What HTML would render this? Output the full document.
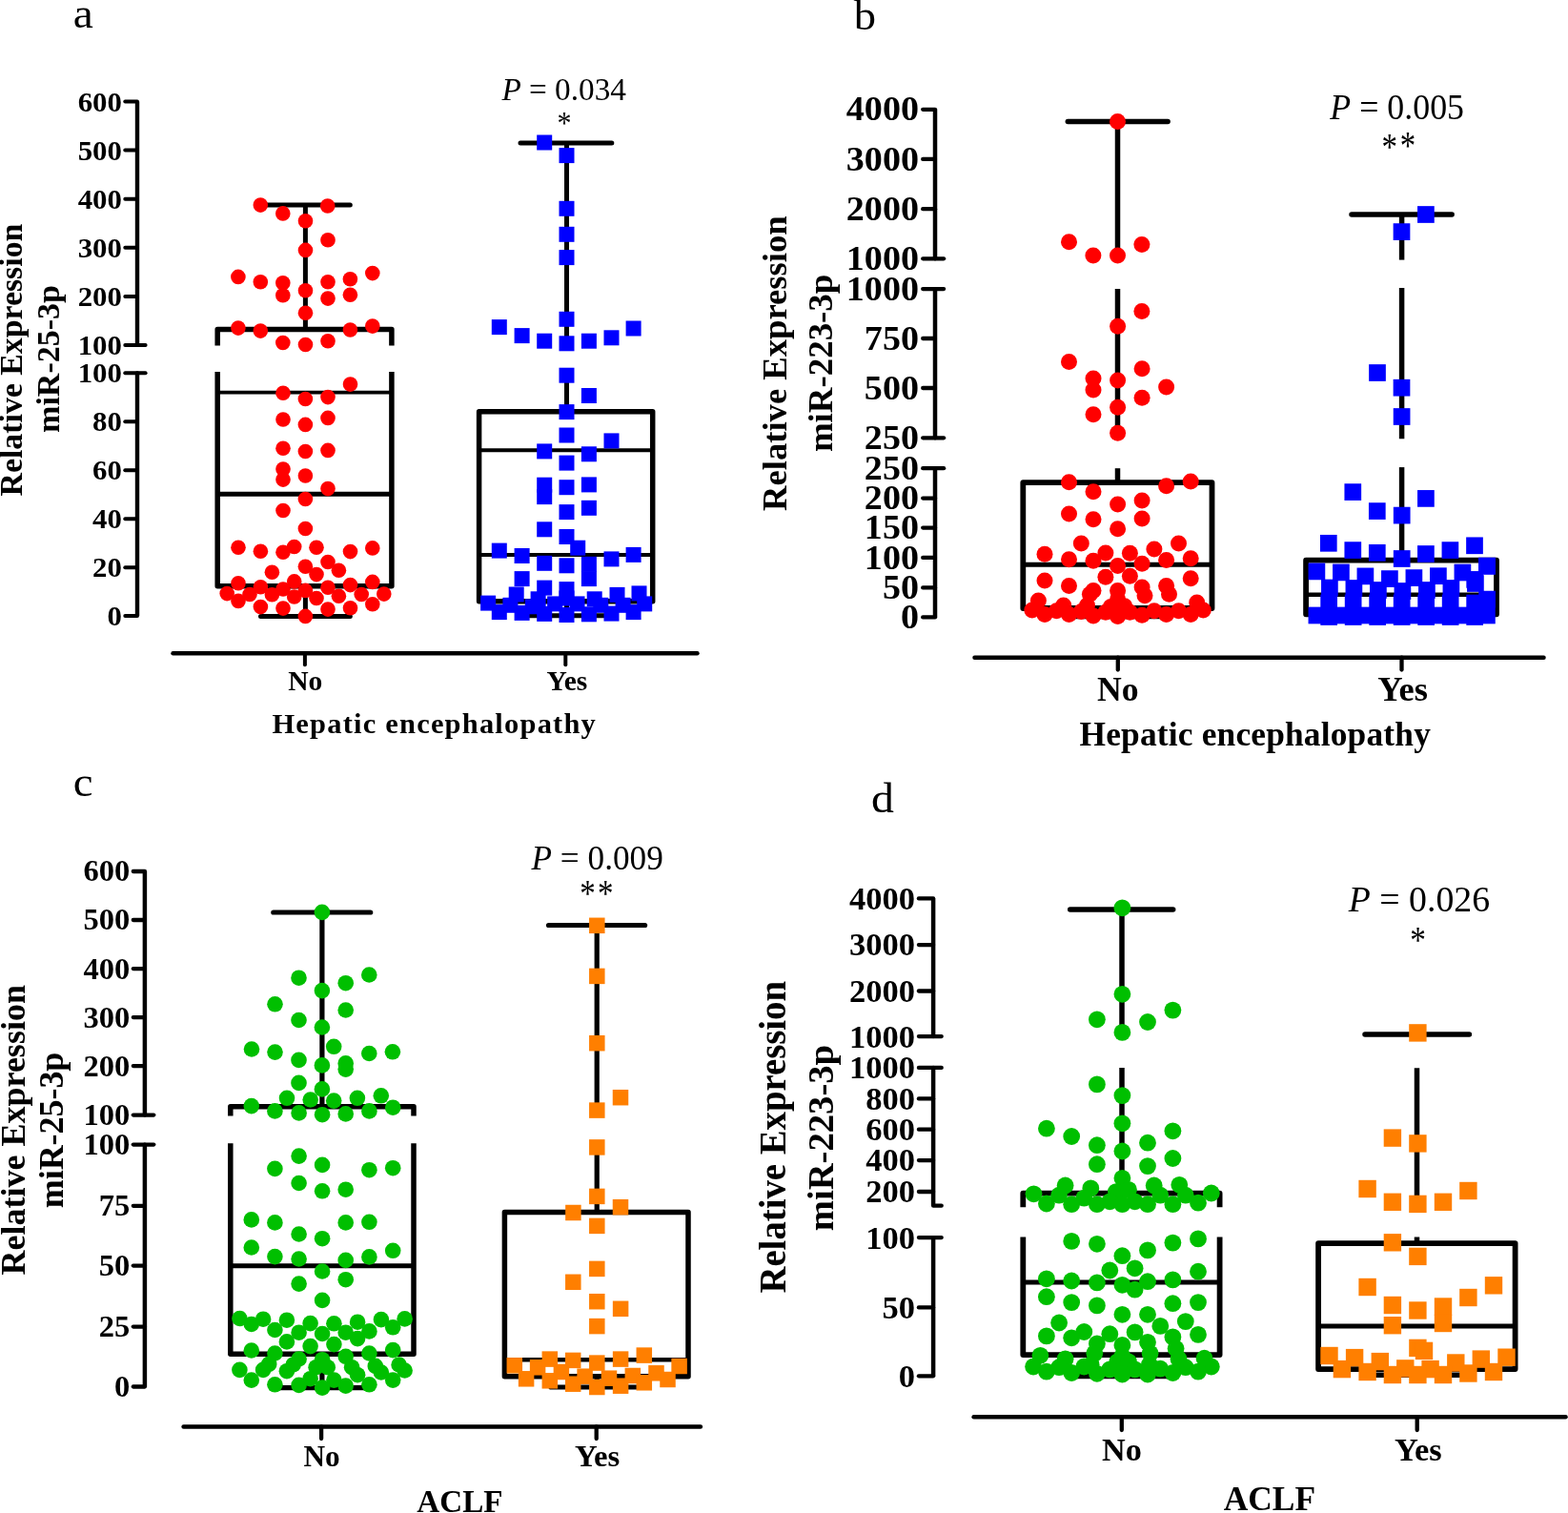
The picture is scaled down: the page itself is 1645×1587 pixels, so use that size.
<!DOCTYPE html>
<html><head><meta charset="utf-8"><title>Relative expression of miR-25-3p and miR-223-3p</title>
<style>html,body{margin:0;padding:0;background:#fff;overflow:hidden;}svg{display:block;}text{font-family:'Liberation Serif', 'Times New Roman', serif;}</style>
</head><body>
<svg width="1645" height="1587" viewBox="0 0 1645 1587">
<rect width="1645" height="1587" fill="#fff"/>
<g stroke="#000" fill="none"><line x1="144" y1="106.5" x2="144" y2="362" stroke-width="4.4" stroke-linecap="butt"/><line x1="131.3" y1="106.5" x2="144" y2="106.5" stroke-width="4" stroke-linecap="round"/><line x1="131.3" y1="157.6" x2="144" y2="157.6" stroke-width="4" stroke-linecap="round"/><line x1="131.3" y1="208.7" x2="144" y2="208.7" stroke-width="4" stroke-linecap="round"/><line x1="131.3" y1="259.8" x2="144" y2="259.8" stroke-width="4" stroke-linecap="round"/><line x1="131.3" y1="310.9" x2="144" y2="310.9" stroke-width="4" stroke-linecap="round"/><line x1="131.3" y1="362" x2="144" y2="362" stroke-width="4" stroke-linecap="round"/><line x1="144" y1="362" x2="152.6" y2="362" stroke-width="4" stroke-linecap="round"/><line x1="144" y1="391.3" x2="144" y2="646.1" stroke-width="4.4" stroke-linecap="butt"/><line x1="131.3" y1="391.3" x2="144" y2="391.3" stroke-width="4" stroke-linecap="round"/><line x1="131.3" y1="442.26" x2="144" y2="442.26" stroke-width="4" stroke-linecap="round"/><line x1="131.3" y1="493.22" x2="144" y2="493.22" stroke-width="4" stroke-linecap="round"/><line x1="131.3" y1="544.18" x2="144" y2="544.18" stroke-width="4" stroke-linecap="round"/><line x1="131.3" y1="595.14" x2="144" y2="595.14" stroke-width="4" stroke-linecap="round"/><line x1="131.3" y1="646.1" x2="144" y2="646.1" stroke-width="4" stroke-linecap="round"/><line x1="144" y1="391.3" x2="152.6" y2="391.3" stroke-width="4" stroke-linecap="round"/><line x1="181.5" y1="685.2" x2="731.5" y2="685.2" stroke-width="4.4" stroke-linecap="round"/><line x1="319.9" y1="685.2" x2="319.9" y2="697.2" stroke-width="4" stroke-linecap="round"/><line x1="593.3" y1="685.2" x2="593.3" y2="697.2" stroke-width="4" stroke-linecap="round"/><line x1="320.4" y1="215.1" x2="320.4" y2="345.5" stroke-width="5" stroke-linecap="butt"/><line x1="320.4" y1="614.8" x2="320.4" y2="646.4" stroke-width="5" stroke-linecap="butt"/><line x1="273.5" y1="215.1" x2="367.3" y2="215.1" stroke-width="5" stroke-linecap="round"/><line x1="273.5" y1="646.4" x2="367.3" y2="646.4" stroke-width="5" stroke-linecap="round"/><polyline points="228.2,362.6 228.2,345.5 410.9,345.5 410.9,362.6" stroke-width="5.5" stroke-linecap="butt" stroke-linejoin="round"/><polyline points="228.2,390 228.2,614.8 410.9,614.8 410.9,390" stroke-width="5.5" stroke-linecap="butt" stroke-linejoin="round"/><line x1="228.2" y1="411.6" x2="410.9" y2="411.6" stroke-width="3.8" stroke-linecap="butt"/><line x1="228.2" y1="518.3" x2="410.9" y2="518.3" stroke-width="5" stroke-linecap="butt"/><line x1="594.5" y1="150" x2="594.5" y2="362.6" stroke-width="5" stroke-linecap="butt"/><line x1="594.5" y1="390" x2="594.5" y2="431.7" stroke-width="5" stroke-linecap="butt"/><line x1="594.5" y1="630.7" x2="594.5" y2="645.8" stroke-width="5" stroke-linecap="butt"/><line x1="546" y1="150" x2="641.8" y2="150" stroke-width="5" stroke-linecap="round"/><line x1="547" y1="645.8" x2="642" y2="645.8" stroke-width="5" stroke-linecap="round"/><polygon points="502.6,431.7 684.7,431.7 684.7,630.7 502.6,630.7" stroke-width="5.5" stroke-linecap="butt" stroke-linejoin="round"/><line x1="502.6" y1="472.2" x2="684.7" y2="472.2" stroke-width="4" stroke-linecap="butt"/><line x1="502.6" y1="581.9" x2="684.7" y2="581.9" stroke-width="4" stroke-linecap="butt"/></g><g fill="#ff0000"><circle cx="273.3" cy="215.1" r="7.8"/><circle cx="343.7" cy="216" r="7.8"/><circle cx="296.8" cy="223.9" r="7.8"/><circle cx="320.5" cy="231.7" r="7.8"/><circle cx="344" cy="251.8" r="7.8"/><circle cx="320.5" cy="262.4" r="7.8"/><circle cx="249.9" cy="290.4" r="7.8"/><circle cx="390.8" cy="286.6" r="7.8"/><circle cx="273.3" cy="295.7" r="7.8"/><circle cx="296.8" cy="296.7" r="7.8"/><circle cx="344" cy="295.7" r="7.8"/><circle cx="367.4" cy="292.7" r="7.8"/><circle cx="296.8" cy="309.8" r="7.8"/><circle cx="320.5" cy="304.8" r="7.8"/><circle cx="344" cy="313.1" r="7.8"/><circle cx="367.4" cy="309.3" r="7.8"/><circle cx="320.5" cy="328.2" r="7.8"/><circle cx="249.9" cy="344.1" r="7.8"/><circle cx="273.3" cy="347.1" r="7.8"/><circle cx="367.4" cy="346" r="7.8"/><circle cx="390.8" cy="342.1" r="7.8"/><circle cx="296.8" cy="359.5" r="7.8"/><circle cx="320.5" cy="361.5" r="7.8"/><circle cx="344" cy="357.7" r="7.8"/><circle cx="367.5" cy="403.1" r="7.8"/><circle cx="297" cy="412.3" r="7.8"/><circle cx="320.4" cy="418.5" r="7.8"/><circle cx="344" cy="416.6" r="7.8"/><circle cx="297" cy="440" r="7.8"/><circle cx="320.4" cy="445.4" r="7.8"/><circle cx="344" cy="438.4" r="7.8"/><circle cx="297" cy="470.2" r="7.8"/><circle cx="320.4" cy="473.5" r="7.8"/><circle cx="344" cy="472.4" r="7.8"/><circle cx="297" cy="492.1" r="7.8"/><circle cx="297" cy="503.1" r="7.8"/><circle cx="320.4" cy="499" r="7.8"/><circle cx="344" cy="512.6" r="7.8"/><circle cx="320.4" cy="523.5" r="7.8"/><circle cx="297" cy="535.5" r="7.8"/><circle cx="320.4" cy="554.5" r="7.8"/><circle cx="250" cy="574.2" r="7.8"/><circle cx="273.4" cy="578.3" r="7.8"/><circle cx="297" cy="579.3" r="7.8"/><circle cx="308.7" cy="573.5" r="7.8"/><circle cx="332" cy="574.2" r="7.8"/><circle cx="367.5" cy="578.6" r="7.8"/><circle cx="390.8" cy="574.9" r="7.8"/><circle cx="344" cy="589.5" r="7.8"/><circle cx="285.4" cy="600.2" r="7.8"/><circle cx="320.4" cy="594.3" r="7.8"/><circle cx="332" cy="602.6" r="7.8"/><circle cx="355.4" cy="598.3" r="7.8"/><circle cx="250" cy="611.8" r="7.8"/><circle cx="273.4" cy="615.8" r="7.8"/><circle cx="308.7" cy="609.9" r="7.8"/><circle cx="297" cy="618" r="7.8"/><circle cx="344" cy="616.2" r="7.8"/><circle cx="367.5" cy="613.6" r="7.8"/><circle cx="390.8" cy="610.4" r="7.8"/><circle cx="238.2" cy="622.6" r="7.8"/><circle cx="262" cy="623.5" r="7.8"/><circle cx="285.4" cy="623.8" r="7.8"/><circle cx="308.7" cy="626" r="7.8"/><circle cx="320.4" cy="619.4" r="7.8"/><circle cx="332" cy="627.5" r="7.8"/><circle cx="355.4" cy="625.3" r="7.8"/><circle cx="379.2" cy="623.5" r="7.8"/><circle cx="402.8" cy="623.1" r="7.8"/><circle cx="250" cy="630.4" r="7.8"/><circle cx="273.4" cy="636.6" r="7.8"/><circle cx="297" cy="638.1" r="7.8"/><circle cx="344" cy="639.1" r="7.8"/><circle cx="367.5" cy="637.7" r="7.8"/><circle cx="390.8" cy="633.7" r="7.8"/><circle cx="320.4" cy="646.4" r="7.8"/></g><g fill="#0000ff"><rect x="563.2" y="141.5" width="16" height="16"/><rect x="586.5" y="155.1" width="16" height="16"/><rect x="586.5" y="210.8" width="16" height="16"/><rect x="586.5" y="237.8" width="16" height="16"/><rect x="586.5" y="262.1" width="16" height="16"/><rect x="586.5" y="326.8" width="16" height="16"/><rect x="515.8" y="335.1" width="16" height="16"/><rect x="539.6" y="344.1" width="16" height="16"/><rect x="563.2" y="349.7" width="16" height="16"/><rect x="586.5" y="352.3" width="16" height="16"/><rect x="609.9" y="349.7" width="16" height="16"/><rect x="633.5" y="346.3" width="16" height="16"/><rect x="656.6" y="336.5" width="16" height="16"/><rect x="586.5" y="385.7" width="16" height="16"/><rect x="609.9" y="407" width="16" height="16"/><rect x="586.5" y="424.1" width="16" height="16"/><rect x="586.5" y="448.5" width="16" height="16"/><rect x="633.5" y="454.4" width="16" height="16"/><rect x="563.2" y="465.4" width="16" height="16"/><rect x="609.9" y="468.3" width="16" height="16"/><rect x="586.5" y="477.6" width="16" height="16"/><rect x="563.2" y="500.7" width="16" height="16"/><rect x="563.2" y="513.1" width="16" height="16"/><rect x="586.5" y="503.2" width="16" height="16"/><rect x="609.9" y="500.4" width="16" height="16"/><rect x="586.5" y="529.1" width="16" height="16"/><rect x="609.9" y="524.8" width="16" height="16"/><rect x="563.2" y="547.3" width="16" height="16"/><rect x="586.5" y="555" width="16" height="16"/><rect x="598.2" y="566.7" width="16" height="16"/><rect x="515.8" y="569.6" width="16" height="16"/><rect x="539.6" y="575" width="16" height="16"/><rect x="563.2" y="582.8" width="16" height="16"/><rect x="586.5" y="585.3" width="16" height="16"/><rect x="609.9" y="583.8" width="16" height="16"/><rect x="609.9" y="599.1" width="16" height="16"/><rect x="633.5" y="578.4" width="16" height="16"/><rect x="656.6" y="573.9" width="16" height="16"/><rect x="539.6" y="599.1" width="16" height="16"/><rect x="563.2" y="608.6" width="16" height="16"/><rect x="586.5" y="610.1" width="16" height="16"/><rect x="533.7" y="615.5" width="16" height="16"/><rect x="639.5" y="615.9" width="16" height="16"/><rect x="662.5" y="614.4" width="16" height="16"/><rect x="615.7" y="620.3" width="16" height="16"/><rect x="556.6" y="620.3" width="16" height="16"/><rect x="504.1" y="624.6" width="16" height="16"/><rect x="527.4" y="626.8" width="16" height="16"/><rect x="550.8" y="628.3" width="16" height="16"/><rect x="574.1" y="625.4" width="16" height="16"/><rect x="597.5" y="625.4" width="16" height="16"/><rect x="622.3" y="626.8" width="16" height="16"/><rect x="645.6" y="626.8" width="16" height="16"/><rect x="668.2" y="625.4" width="16" height="16"/><rect x="515.8" y="634.1" width="16" height="16"/><rect x="539.6" y="634.9" width="16" height="16"/><rect x="563.2" y="635.9" width="16" height="16"/><rect x="586.5" y="637" width="16" height="16"/><rect x="609.9" y="636.3" width="16" height="16"/><rect x="633.5" y="635.6" width="16" height="16"/><rect x="656.6" y="634.1" width="16" height="16"/><rect x="586.5" y="619.5" width="16" height="16"/></g><g fill="#000"><text transform="translate(81.67 116.51) scale(1.0435 1)" font-size="29.55" font-weight="bold">600</text><text transform="translate(81.67 167.61) scale(1.0435 1)" font-size="29.55" font-weight="bold">500</text><text transform="translate(81.67 218.71) scale(1.0435 1)" font-size="29.55" font-weight="bold">400</text><text transform="translate(81.67 269.81) scale(1.0435 1)" font-size="29.55" font-weight="bold">300</text><text transform="translate(81.67 320.91) scale(1.0435 1)" font-size="29.55" font-weight="bold">200</text><text transform="translate(81.67 372.16) scale(1.0435 1)" font-size="29.55" font-weight="bold">100</text><text transform="translate(81.67 401.46) scale(1.0435 1)" font-size="29.55" font-weight="bold">100</text><text transform="translate(97.09 452.27) scale(1.0435 1)" font-size="29.55" font-weight="bold">80</text><text transform="translate(97.09 503.23) scale(1.0435 1)" font-size="29.55" font-weight="bold">60</text><text transform="translate(97.09 554.19) scale(1.0435 1)" font-size="29.55" font-weight="bold">40</text><text transform="translate(97.09 605.15) scale(1.0435 1)" font-size="29.55" font-weight="bold">20</text><text transform="translate(112.51 656.11) scale(1.0435 1)" font-size="29.55" font-weight="bold">0</text><text transform="translate(76.8 28.95) scale(1.0541 1)" font-size="45">a</text><text transform="translate(302.21 723.9) scale(0.9806 1)" font-size="30.15" font-weight="bold">No</text><text transform="translate(573.61 723.9) scale(0.9783 1)" font-size="30.15" font-weight="bold">Yes</text><text transform="translate(285.39 769)" font-size="30.46" font-weight="bold" letter-spacing="1.22">Hepatic encephalopathy</text><text transform="translate(22.9 520.48) rotate(-90) scale(1.0036 1)" font-size="33.69" font-weight="bold">Relative Expression</text><text transform="translate(61.9 453.92) rotate(-90) scale(1.0187 1)" font-size="33.38" font-weight="bold">miR-25-3p</text><text transform="translate(526.4 104.7) scale(0.9876 1)" font-size="33.69"><tspan font-style="italic">P</tspan> = 0.034</text><text transform="translate(584.5 139.79) scale(0.8710 1)" font-size="34.44">*</text></g>
<g stroke="#000" fill="none"><line x1="981" y1="114.8" x2="981" y2="271.3" stroke-width="4.5" stroke-linecap="butt"/><line x1="968.2" y1="114.8" x2="981" y2="114.8" stroke-width="4.3" stroke-linecap="round"/><line x1="968.2" y1="166.9" x2="981" y2="166.9" stroke-width="4.3" stroke-linecap="round"/><line x1="968.2" y1="219.2" x2="981" y2="219.2" stroke-width="4.3" stroke-linecap="round"/><line x1="968.2" y1="271.3" x2="981" y2="271.3" stroke-width="4.3" stroke-linecap="round"/><line x1="981" y1="271.3" x2="990.1" y2="271.3" stroke-width="4.3" stroke-linecap="round"/><line x1="981" y1="303.1" x2="981" y2="459.3" stroke-width="4.5" stroke-linecap="butt"/><line x1="968.2" y1="303.1" x2="981" y2="303.1" stroke-width="4.3" stroke-linecap="round"/><line x1="968.2" y1="355" x2="981" y2="355" stroke-width="4.3" stroke-linecap="round"/><line x1="968.2" y1="407" x2="981" y2="407" stroke-width="4.3" stroke-linecap="round"/><line x1="968.2" y1="459.3" x2="981" y2="459.3" stroke-width="4.3" stroke-linecap="round"/><line x1="981" y1="303.1" x2="990.1" y2="303.1" stroke-width="4.3" stroke-linecap="round"/><line x1="981" y1="459.3" x2="990.1" y2="459.3" stroke-width="4.3" stroke-linecap="round"/><line x1="981" y1="491.2" x2="981" y2="647.4" stroke-width="4.5" stroke-linecap="butt"/><line x1="968.2" y1="491.2" x2="981" y2="491.2" stroke-width="4.3" stroke-linecap="round"/><line x1="968.2" y1="522.6" x2="981" y2="522.6" stroke-width="4.3" stroke-linecap="round"/><line x1="968.2" y1="553.6" x2="981" y2="553.6" stroke-width="4.3" stroke-linecap="round"/><line x1="968.2" y1="584.9" x2="981" y2="584.9" stroke-width="4.3" stroke-linecap="round"/><line x1="968.2" y1="616.4" x2="981" y2="616.4" stroke-width="4.3" stroke-linecap="round"/><line x1="968.2" y1="647.4" x2="981" y2="647.4" stroke-width="4.3" stroke-linecap="round"/><line x1="981" y1="491.2" x2="990.1" y2="491.2" stroke-width="4.3" stroke-linecap="round"/><line x1="1022.5" y1="689.7" x2="1619.5" y2="689.7" stroke-width="4.5" stroke-linecap="round"/><line x1="1172.8" y1="689.7" x2="1172.8" y2="702.5" stroke-width="4.3" stroke-linecap="round"/><line x1="1470.5" y1="689.7" x2="1470.5" y2="702.5" stroke-width="4.3" stroke-linecap="round"/><line x1="1172.5" y1="127.5" x2="1172.5" y2="271.3" stroke-width="5.5" stroke-linecap="butt"/><line x1="1172.5" y1="303.1" x2="1172.5" y2="459.3" stroke-width="5.5" stroke-linecap="butt"/><line x1="1172.5" y1="491.2" x2="1172.5" y2="506.2" stroke-width="5.5" stroke-linecap="butt"/><line x1="1172.5" y1="638" x2="1172.5" y2="646.6" stroke-width="5.5" stroke-linecap="butt"/><line x1="1120.3" y1="127.5" x2="1225.1" y2="127.5" stroke-width="5.5" stroke-linecap="round"/><line x1="1122" y1="646.6" x2="1223" y2="646.6" stroke-width="5.5" stroke-linecap="round"/><polygon points="1073.3,506.2 1271.5,506.2 1271.5,638 1073.3,638" stroke-width="5.8" stroke-linecap="butt" stroke-linejoin="round"/><line x1="1073.3" y1="592.3" x2="1271.5" y2="592.3" stroke-width="5" stroke-linecap="butt"/><line x1="1470.6" y1="225" x2="1470.6" y2="272.6" stroke-width="5.5" stroke-linecap="butt"/><line x1="1470.6" y1="302.1" x2="1470.6" y2="460.3" stroke-width="5.5" stroke-linecap="butt"/><line x1="1470.6" y1="490.1" x2="1470.6" y2="587.7" stroke-width="5.5" stroke-linecap="butt"/><line x1="1418" y1="225" x2="1523.2" y2="225" stroke-width="5.5" stroke-linecap="round"/><polygon points="1370.1,587.7 1570,587.7 1570,644.3 1370.1,644.3" stroke-width="5.8" stroke-linecap="butt" stroke-linejoin="round"/><line x1="1370.1" y1="623.8" x2="1570" y2="623.8" stroke-width="4.5" stroke-linecap="butt"/></g><g fill="#ff0000"><circle cx="1172.5" cy="127.5" r="8.5"/><circle cx="1121.5" cy="253.8" r="8.5"/><circle cx="1146.9" cy="267.9" r="8.5"/><circle cx="1172.5" cy="267.9" r="8.5"/><circle cx="1197.9" cy="256.5" r="8.5"/><circle cx="1197.9" cy="326.5" r="8.5"/><circle cx="1172.6" cy="342.3" r="8.5"/><circle cx="1121.5" cy="379.4" r="8.5"/><circle cx="1147" cy="396.9" r="8.5"/><circle cx="1147" cy="409" r="8.5"/><circle cx="1172.6" cy="399.1" r="8.5"/><circle cx="1198.1" cy="386.7" r="8.5"/><circle cx="1223.6" cy="406.1" r="8.5"/><circle cx="1198.1" cy="417.3" r="8.5"/><circle cx="1147" cy="434.8" r="8.5"/><circle cx="1172.6" cy="427.2" r="8.5"/><circle cx="1172.6" cy="454.2" r="8.5"/><circle cx="1121.5" cy="505.7" r="8.5"/><circle cx="1147" cy="515.7" r="8.5"/><circle cx="1223.6" cy="509.8" r="8.5"/><circle cx="1249.2" cy="505" r="8.5"/><circle cx="1172.6" cy="528.9" r="8.5"/><circle cx="1198.1" cy="525.1" r="8.5"/><circle cx="1121.5" cy="539.1" r="8.5"/><circle cx="1147" cy="544.8" r="8.5"/><circle cx="1198.1" cy="544.1" r="8.5"/><circle cx="1172.6" cy="554.7" r="8.5"/><circle cx="1134.3" cy="570" r="8.5"/><circle cx="1236.5" cy="570" r="8.5"/><circle cx="1096" cy="581.3" r="8.5"/><circle cx="1121.5" cy="586.8" r="8.5"/><circle cx="1147" cy="588.3" r="8.5"/><circle cx="1159.9" cy="580" r="8.5"/><circle cx="1185.4" cy="580.2" r="8.5"/><circle cx="1210.9" cy="575.9" r="8.5"/><circle cx="1223.6" cy="587.5" r="8.5"/><circle cx="1249.2" cy="585.8" r="8.5"/><circle cx="1172.6" cy="593.4" r="8.5"/><circle cx="1198.1" cy="591.2" r="8.5"/><circle cx="1096" cy="609.1" r="8.5"/><circle cx="1121.5" cy="614.5" r="8.5"/><circle cx="1159.9" cy="605.3" r="8.5"/><circle cx="1185.4" cy="604.3" r="8.5"/><circle cx="1249.2" cy="606.8" r="8.5"/><circle cx="1147" cy="619.6" r="8.5"/><circle cx="1143.4" cy="623.3" r="8.5"/><circle cx="1172.6" cy="619.6" r="8.5"/><circle cx="1172.6" cy="628.4" r="8.5"/><circle cx="1198.1" cy="616" r="8.5"/><circle cx="1201" cy="624.7" r="8.5"/><circle cx="1223.6" cy="614.5" r="8.5"/><circle cx="1226.5" cy="623.3" r="8.5"/><circle cx="1089.4" cy="629.9" r="8.5"/><circle cx="1115.7" cy="635" r="8.5"/><circle cx="1255.7" cy="632" r="8.5"/><circle cx="1082.8" cy="640.1" r="8.5"/><circle cx="1096" cy="644.4" r="8.5"/><circle cx="1108.4" cy="640.8" r="8.5"/><circle cx="1121.5" cy="644.4" r="8.5"/><circle cx="1134.3" cy="641.5" r="8.5"/><circle cx="1147" cy="645.9" r="8.5"/><circle cx="1159.9" cy="642.3" r="8.5"/><circle cx="1172.6" cy="646.6" r="8.5"/><circle cx="1185.4" cy="642.3" r="8.5"/><circle cx="1198.1" cy="645.2" r="8.5"/><circle cx="1210.9" cy="640.8" r="8.5"/><circle cx="1223.6" cy="644.4" r="8.5"/><circle cx="1236.5" cy="640.8" r="8.5"/><circle cx="1249.2" cy="644.4" r="8.5"/><circle cx="1262.3" cy="640.1" r="8.5"/><circle cx="1140.5" cy="635" r="8.5"/><circle cx="1165.3" cy="636.4" r="8.5"/><circle cx="1179.8" cy="635.7" r="8.5"/></g><g fill="#0000ff"><rect x="1487.05" y="216.15" width="17.7" height="17.7"/><rect x="1461.65" y="234.25" width="17.7" height="17.7"/><rect x="1436.15" y="382.15" width="17.7" height="17.7"/><rect x="1461.65" y="397.85" width="17.7" height="17.7"/><rect x="1461.75" y="428.15" width="17.7" height="17.7"/><rect x="1410.45" y="507.25" width="17.7" height="17.7"/><rect x="1487.05" y="514.05" width="17.7" height="17.7"/><rect x="1435.95" y="527.25" width="17.7" height="17.7"/><rect x="1461.85" y="531.75" width="17.7" height="17.7"/><rect x="1384.95" y="560.95" width="17.7" height="17.7"/><rect x="1410.45" y="568.25" width="17.7" height="17.7"/><rect x="1435.95" y="570.95" width="17.7" height="17.7"/><rect x="1461.85" y="577.15" width="17.7" height="17.7"/><rect x="1487.05" y="572.15" width="17.7" height="17.7"/><rect x="1512.55" y="568.25" width="17.7" height="17.7"/><rect x="1538.15" y="563.45" width="17.7" height="17.7"/><rect x="1551.25" y="584.75" width="17.7" height="17.7"/><rect x="1372.55" y="590.55" width="17.7" height="17.7"/><rect x="1398.05" y="591.55" width="17.7" height="17.7"/><rect x="1423.55" y="595.55" width="17.7" height="17.7"/><rect x="1449.05" y="598.25" width="17.7" height="17.7"/><rect x="1474.55" y="597.25" width="17.7" height="17.7"/><rect x="1500.05" y="595.35" width="17.7" height="17.7"/><rect x="1525.55" y="591.65" width="17.7" height="17.7"/><rect x="1551.05" y="584.95" width="17.7" height="17.7"/><rect x="1386.05" y="607.65" width="17.7" height="17.7"/><rect x="1411.55" y="608.15" width="17.7" height="17.7"/><rect x="1437.05" y="610.15" width="17.7" height="17.7"/><rect x="1462.55" y="611.15" width="17.7" height="17.7"/><rect x="1488.05" y="610.15" width="17.7" height="17.7"/><rect x="1513.55" y="608.15" width="17.7" height="17.7"/><rect x="1539.05" y="603.15" width="17.7" height="17.7"/><rect x="1538.35" y="599.05" width="17.7" height="17.7"/><rect x="1385.3" y="623.65" width="17.7" height="17.7"/><rect x="1410.8" y="623.65" width="17.7" height="17.7"/><rect x="1436.3" y="623.65" width="17.7" height="17.7"/><rect x="1461.8" y="623.65" width="17.7" height="17.7"/><rect x="1487.3" y="623.65" width="17.7" height="17.7"/><rect x="1512.8" y="623.65" width="17.7" height="17.7"/><rect x="1538.3" y="623.65" width="17.7" height="17.7"/><rect x="1551.25" y="619.75" width="17.7" height="17.7"/><rect x="1372.55" y="636.65" width="17.7" height="17.7"/><rect x="1398.05" y="636.65" width="17.7" height="17.7"/><rect x="1423.55" y="636.65" width="17.7" height="17.7"/><rect x="1449.05" y="636.65" width="17.7" height="17.7"/><rect x="1474.55" y="636.65" width="17.7" height="17.7"/><rect x="1500.05" y="636.65" width="17.7" height="17.7"/><rect x="1525.55" y="636.65" width="17.7" height="17.7"/><rect x="1551.05" y="636.65" width="17.7" height="17.7"/><rect x="1385.3" y="638.15" width="17.7" height="17.7"/><rect x="1410.8" y="638.15" width="17.7" height="17.7"/><rect x="1436.3" y="638.15" width="17.7" height="17.7"/><rect x="1461.8" y="638.15" width="17.7" height="17.7"/><rect x="1487.3" y="638.15" width="17.7" height="17.7"/><rect x="1512.8" y="638.15" width="17.7" height="17.7"/><rect x="1538.3" y="638.15" width="17.7" height="17.7"/></g><g fill="#000"><text transform="translate(887.86 126.48) scale(1.0912 1)" font-size="34.85" font-weight="bold">4000</text><text transform="translate(887.86 178.58) scale(1.0912 1)" font-size="34.85" font-weight="bold">3000</text><text transform="translate(887.86 230.88) scale(1.0912 1)" font-size="34.85" font-weight="bold">2000</text><text transform="translate(887.86 283.15) scale(1.0912 1)" font-size="34.85" font-weight="bold">1000</text><text transform="translate(887.86 314.95) scale(1.0912 1)" font-size="34.85" font-weight="bold">1000</text><text transform="translate(906.87 366.68) scale(1.0912 1)" font-size="34.85" font-weight="bold">750</text><text transform="translate(906.87 418.68) scale(1.0912 1)" font-size="34.85" font-weight="bold">500</text><text transform="translate(906.87 470.98) scale(1.0912 1)" font-size="34.85" font-weight="bold">250</text><text transform="translate(906.87 502.88) scale(1.0912 1)" font-size="34.85" font-weight="bold">250</text><text transform="translate(906.87 534.28) scale(1.0912 1)" font-size="34.85" font-weight="bold">200</text><text transform="translate(906.87 565.45) scale(1.0912 1)" font-size="34.85" font-weight="bold">150</text><text transform="translate(906.87 596.75) scale(1.0912 1)" font-size="34.85" font-weight="bold">100</text><text transform="translate(925.89 628.08) scale(1.0912 1)" font-size="34.85" font-weight="bold">50</text><text transform="translate(944.91 659.08) scale(1.0912 1)" font-size="34.85" font-weight="bold">0</text><text transform="translate(895.8 31.45) scale(1.0338 1)" font-size="45">b</text><text transform="translate(1151.09 734.9) scale(1.0086 1)" font-size="35.38" font-weight="bold">No</text><text transform="translate(1445.17 734.9) scale(1.0315 1)" font-size="35.38" font-weight="bold">Yes</text><text transform="translate(1132.49 782.1)" font-size="35.38" font-weight="bold" letter-spacing="0.18">Hepatic encephalopathy</text><text transform="translate(824.7 536.03) rotate(-90) scale(0.9968 1)" font-size="36.77" font-weight="bold">Relative Expression</text><text transform="translate(872.5 474.11) rotate(-90) scale(1.0564 1)" font-size="34.92" font-weight="bold">miR-223-3p</text><text transform="translate(1395.3 124.8) scale(0.9553 1)" font-size="37.54"><tspan font-style="italic">P</tspan> = 0.005</text><text transform="translate(1449.45 167.02) scale(0.8027 1)" font-size="41.11">*</text><text transform="translate(1468.66 167.02) scale(0.7966 1)" font-size="41.11">*</text></g>
<g stroke="#000" fill="none"><line x1="151.9" y1="914" x2="151.9" y2="1169.6" stroke-width="4.5" stroke-linecap="butt"/><line x1="139.8" y1="914" x2="151.9" y2="914" stroke-width="4.3" stroke-linecap="round"/><line x1="139.8" y1="965" x2="151.9" y2="965" stroke-width="4.3" stroke-linecap="round"/><line x1="139.8" y1="1016.1" x2="151.9" y2="1016.1" stroke-width="4.3" stroke-linecap="round"/><line x1="139.8" y1="1067.1" x2="151.9" y2="1067.1" stroke-width="4.3" stroke-linecap="round"/><line x1="139.8" y1="1118.1" x2="151.9" y2="1118.1" stroke-width="4.3" stroke-linecap="round"/><line x1="139.8" y1="1169.6" x2="151.9" y2="1169.6" stroke-width="4.3" stroke-linecap="round"/><line x1="151.9" y1="1169.6" x2="161.3" y2="1169.6" stroke-width="4.3" stroke-linecap="round"/><line x1="151.9" y1="1200.6" x2="151.9" y2="1454.5" stroke-width="4.5" stroke-linecap="butt"/><line x1="139.8" y1="1200.6" x2="151.9" y2="1200.6" stroke-width="4.3" stroke-linecap="round"/><line x1="139.8" y1="1264.8" x2="151.9" y2="1264.8" stroke-width="4.3" stroke-linecap="round"/><line x1="139.8" y1="1327.6" x2="151.9" y2="1327.6" stroke-width="4.3" stroke-linecap="round"/><line x1="139.8" y1="1391.6" x2="151.9" y2="1391.6" stroke-width="4.3" stroke-linecap="round"/><line x1="139.8" y1="1454.5" x2="151.9" y2="1454.5" stroke-width="4.3" stroke-linecap="round"/><line x1="151.9" y1="1200.6" x2="161.3" y2="1200.6" stroke-width="4.3" stroke-linecap="round"/><line x1="192.6" y1="1496.4" x2="734.9" y2="1496.4" stroke-width="4.5" stroke-linecap="round"/><line x1="337.1" y1="1496.4" x2="337.1" y2="1509.1" stroke-width="4.3" stroke-linecap="round"/><line x1="625.7" y1="1496.4" x2="625.7" y2="1509.1" stroke-width="4.3" stroke-linecap="round"/><line x1="337.9" y1="957" x2="337.9" y2="1160.7" stroke-width="5.2" stroke-linecap="butt"/><line x1="337.9" y1="1420.2" x2="337.9" y2="1455.6" stroke-width="5.2" stroke-linecap="butt"/><line x1="286.8" y1="957" x2="388.7" y2="957" stroke-width="5.2" stroke-linecap="round"/><line x1="290" y1="1455.6" x2="386" y2="1455.6" stroke-width="5.2" stroke-linecap="round"/><polyline points="241.8,1170.4 241.8,1160.7 434,1160.7 434,1170.4" stroke-width="5.5" stroke-linecap="butt" stroke-linejoin="round"/><polyline points="241.8,1199.2 241.8,1420.2 434,1420.2 434,1199.2" stroke-width="5.5" stroke-linecap="butt" stroke-linejoin="round"/><line x1="241.8" y1="1327.8" x2="434" y2="1327.8" stroke-width="5" stroke-linecap="butt"/><line x1="626.2" y1="970.5" x2="626.2" y2="1170" stroke-width="5.2" stroke-linecap="butt"/><line x1="626.2" y1="1199" x2="626.2" y2="1271.6" stroke-width="5.2" stroke-linecap="butt"/><line x1="626.2" y1="1443.7" x2="626.2" y2="1455" stroke-width="5.2" stroke-linecap="butt"/><line x1="575.5" y1="970.5" x2="676.6" y2="970.5" stroke-width="5.2" stroke-linecap="round"/><line x1="578" y1="1455" x2="674" y2="1455" stroke-width="5.2" stroke-linecap="round"/><polygon points="529.4,1271.6 722,1271.6 722,1443.7 529.4,1443.7" stroke-width="5.5" stroke-linecap="butt" stroke-linejoin="round"/><line x1="529.4" y1="1426.3" x2="722" y2="1426.3" stroke-width="4.5" stroke-linecap="butt"/></g><g fill="#00bf00"><circle cx="337.9" cy="956.9" r="8.3"/><circle cx="313.5" cy="1025.7" r="8.3"/><circle cx="387.3" cy="1022.5" r="8.3"/><circle cx="362.7" cy="1031.2" r="8.3"/><circle cx="337.9" cy="1039.1" r="8.3"/><circle cx="288.5" cy="1053.3" r="8.3"/><circle cx="362.7" cy="1059.5" r="8.3"/><circle cx="313.5" cy="1070" r="8.3"/><circle cx="337.9" cy="1077.5" r="8.3"/><circle cx="264" cy="1100.5" r="8.3"/><circle cx="288.5" cy="1103.6" r="8.3"/><circle cx="350.2" cy="1097.8" r="8.3"/><circle cx="387.3" cy="1105" r="8.3"/><circle cx="411.9" cy="1103.3" r="8.3"/><circle cx="313.5" cy="1111.9" r="8.3"/><circle cx="337.9" cy="1117.4" r="8.3"/><circle cx="362.7" cy="1115.4" r="8.3"/><circle cx="362.7" cy="1121.6" r="8.3"/><circle cx="313.5" cy="1135.9" r="8.3"/><circle cx="337.9" cy="1142.4" r="8.3"/><circle cx="301" cy="1151.8" r="8.3"/><circle cx="325.7" cy="1153.5" r="8.3"/><circle cx="350.2" cy="1154.6" r="8.3"/><circle cx="374.9" cy="1151.8" r="8.3"/><circle cx="399.8" cy="1149.3" r="8.3"/><circle cx="263.8" cy="1160.1" r="8.3"/><circle cx="288.4" cy="1165.4" r="8.3"/><circle cx="313.6" cy="1167.4" r="8.3"/><circle cx="338.1" cy="1169.2" r="8.3"/><circle cx="362.7" cy="1168.4" r="8.3"/><circle cx="387.4" cy="1165.4" r="8.3"/><circle cx="412.2" cy="1161.7" r="8.3"/><circle cx="313.6" cy="1212.6" r="8.3"/><circle cx="288.4" cy="1225.9" r="8.3"/><circle cx="338.1" cy="1221.9" r="8.3"/><circle cx="387.4" cy="1227.2" r="8.3"/><circle cx="412.2" cy="1225.2" r="8.3"/><circle cx="313.6" cy="1241" r="8.3"/><circle cx="338.1" cy="1249.3" r="8.3"/><circle cx="362.7" cy="1247.7" r="8.3"/><circle cx="263.8" cy="1279.4" r="8.3"/><circle cx="288.4" cy="1282.4" r="8.3"/><circle cx="362.7" cy="1282.4" r="8.3"/><circle cx="387.4" cy="1281.8" r="8.3"/><circle cx="313.6" cy="1294.5" r="8.3"/><circle cx="338.1" cy="1299.2" r="8.3"/><circle cx="263.8" cy="1308.5" r="8.3"/><circle cx="288.4" cy="1318.1" r="8.3"/><circle cx="313.6" cy="1320.5" r="8.3"/><circle cx="362.7" cy="1321.9" r="8.3"/><circle cx="387.4" cy="1318.4" r="8.3"/><circle cx="412.2" cy="1311.8" r="8.3"/><circle cx="338.1" cy="1333.5" r="8.3"/><circle cx="313.6" cy="1346.6" r="8.3"/><circle cx="362.7" cy="1342.2" r="8.3"/><circle cx="338.1" cy="1363.9" r="8.3"/><circle cx="251.4" cy="1383" r="8.3"/><circle cx="263.8" cy="1389" r="8.3"/><circle cx="276.1" cy="1383.7" r="8.3"/><circle cx="300.9" cy="1384.7" r="8.3"/><circle cx="288.4" cy="1395" r="8.3"/><circle cx="325.6" cy="1388.1" r="8.3"/><circle cx="350.4" cy="1388.3" r="8.3"/><circle cx="375.1" cy="1386.7" r="8.3"/><circle cx="399.9" cy="1384.1" r="8.3"/><circle cx="424.6" cy="1383.4" r="8.3"/><circle cx="412.2" cy="1392.3" r="8.3"/><circle cx="313.6" cy="1397.7" r="8.3"/><circle cx="338.1" cy="1399" r="8.3"/><circle cx="362.7" cy="1397.7" r="8.3"/><circle cx="387.4" cy="1396.4" r="8.3"/><circle cx="300.9" cy="1407.4" r="8.3"/><circle cx="325.6" cy="1412.1" r="8.3"/><circle cx="350.4" cy="1410.1" r="8.3"/><circle cx="375.1" cy="1404.1" r="8.3"/><circle cx="263.8" cy="1416.5" r="8.3"/><circle cx="288.4" cy="1419.5" r="8.3"/><circle cx="412.2" cy="1416.1" r="8.3"/><circle cx="313.6" cy="1425.5" r="8.3"/><circle cx="338.1" cy="1426.2" r="8.3"/><circle cx="362.7" cy="1422.8" r="8.3"/><circle cx="387.4" cy="1419.5" r="8.3"/><circle cx="251.4" cy="1436.9" r="8.3"/><circle cx="276.1" cy="1436.9" r="8.3"/><circle cx="282.2" cy="1430.9" r="8.3"/><circle cx="300.9" cy="1438.2" r="8.3"/><circle cx="307.6" cy="1431.5" r="8.3"/><circle cx="331.6" cy="1434.2" r="8.3"/><circle cx="343.7" cy="1434.2" r="8.3"/><circle cx="369.1" cy="1434.2" r="8.3"/><circle cx="375.1" cy="1442.2" r="8.3"/><circle cx="393.8" cy="1432.9" r="8.3"/><circle cx="399.9" cy="1439.5" r="8.3"/><circle cx="418.6" cy="1431.5" r="8.3"/><circle cx="424.6" cy="1437.5" r="8.3"/><circle cx="263.8" cy="1447.6" r="8.3"/><circle cx="288.4" cy="1452.3" r="8.3"/><circle cx="313.6" cy="1452.9" r="8.3"/><circle cx="325.6" cy="1446.2" r="8.3"/><circle cx="350.4" cy="1447.6" r="8.3"/><circle cx="338.1" cy="1455.6" r="8.3"/><circle cx="362.7" cy="1453.6" r="8.3"/><circle cx="387.4" cy="1452.3" r="8.3"/><circle cx="412.2" cy="1447.6" r="8.3"/></g><g fill="#ff7f00"><rect x="618.05" y="962.55" width="16.5" height="16.5"/><rect x="618.05" y="1015.65" width="16.5" height="16.5"/><rect x="618.05" y="1085.95" width="16.5" height="16.5"/><rect x="642.75" y="1142.95" width="16.5" height="16.5"/><rect x="618.05" y="1156.35" width="16.5" height="16.5"/><rect x="618.05" y="1195.15" width="16.5" height="16.5"/><rect x="618.05" y="1246.65" width="16.5" height="16.5"/><rect x="593.15" y="1263.75" width="16.5" height="16.5"/><rect x="642.75" y="1257.95" width="16.5" height="16.5"/><rect x="618.05" y="1277.65" width="16.5" height="16.5"/><rect x="618.05" y="1322.65" width="16.5" height="16.5"/><rect x="593.05" y="1336.55" width="16.5" height="16.5"/><rect x="618.05" y="1356.95" width="16.5" height="16.5"/><rect x="642.85" y="1364.55" width="16.5" height="16.5"/><rect x="618.05" y="1382.85" width="16.5" height="16.5"/><rect x="531.55" y="1424.05" width="16.5" height="16.5"/><rect x="543.85" y="1438.05" width="16.5" height="16.5"/><rect x="555.85" y="1426.05" width="16.5" height="16.5"/><rect x="568.55" y="1417.35" width="16.5" height="16.5"/><rect x="568.55" y="1440.05" width="16.5" height="16.5"/><rect x="580.65" y="1430.75" width="16.5" height="16.5"/><rect x="592.95" y="1418.65" width="16.5" height="16.5"/><rect x="592.95" y="1443.45" width="16.5" height="16.5"/><rect x="605.35" y="1435.45" width="16.5" height="16.5"/><rect x="618.05" y="1421.35" width="16.5" height="16.5"/><rect x="618.05" y="1446.75" width="16.5" height="16.5"/><rect x="630.75" y="1437.45" width="16.5" height="16.5"/><rect x="642.85" y="1417.35" width="16.5" height="16.5"/><rect x="642.85" y="1445.45" width="16.5" height="16.5"/><rect x="655.55" y="1434.75" width="16.5" height="16.5"/><rect x="667.55" y="1413.35" width="16.5" height="16.5"/><rect x="667.55" y="1442.05" width="16.5" height="16.5"/><rect x="680.25" y="1432.05" width="16.5" height="16.5"/><rect x="692.25" y="1438.75" width="16.5" height="16.5"/><rect x="704.35" y="1424.75" width="16.5" height="16.5"/></g><g fill="#000"><text transform="translate(87.42 924.43) scale(1.0525 1)" font-size="30.9" font-weight="bold">600</text><text transform="translate(87.42 975.43) scale(1.0525 1)" font-size="30.9" font-weight="bold">500</text><text transform="translate(87.42 1026.53) scale(1.0525 1)" font-size="30.9" font-weight="bold">400</text><text transform="translate(87.42 1077.53) scale(1.0525 1)" font-size="30.9" font-weight="bold">300</text><text transform="translate(87.42 1128.53) scale(1.0525 1)" font-size="30.9" font-weight="bold">200</text><text transform="translate(87.42 1180.19) scale(1.0525 1)" font-size="30.9" font-weight="bold">100</text><text transform="translate(87.42 1211.19) scale(1.0525 1)" font-size="30.9" font-weight="bold">100</text><text transform="translate(103.68 1275.39) scale(1.0525 1)" font-size="30.9" font-weight="bold">75</text><text transform="translate(103.68 1338.03) scale(1.0525 1)" font-size="30.9" font-weight="bold">50</text><text transform="translate(103.68 1402.19) scale(1.0525 1)" font-size="30.9" font-weight="bold">25</text><text transform="translate(119.94 1464.93) scale(1.0525 1)" font-size="30.9" font-weight="bold">0</text><text transform="translate(76.83 834.56) scale(1.0738 1)" font-size="43.54">c</text><text transform="translate(318.47 1537.8) scale(0.9922 1)" font-size="31.54" font-weight="bold">No</text><text transform="translate(602.95 1537.8) scale(1.0373 1)" font-size="31.54" font-weight="bold">Yes</text><text transform="translate(437.27 1585.6) scale(1.0035 1)" font-size="33.03" font-weight="bold">ACLF</text><text transform="translate(26 1337.42) rotate(-90)" font-size="36" font-weight="bold">Relative Expression</text><text transform="translate(66.2 1267.18) rotate(-90) scale(1.0059 1)" font-size="35.69" font-weight="bold">miR-25-3p</text><text transform="translate(557.5 912.1) scale(0.9752 1)" font-size="36.15"><tspan font-style="italic">P</tspan> = 0.009</text><text transform="translate(608.35 950.34) scale(0.8366 1)" font-size="39.44">*</text><text transform="translate(626.95 950.34) scale(0.8366 1)" font-size="39.44">*</text></g>
<g stroke="#000" fill="none"><line x1="979.1" y1="942.4" x2="979.1" y2="1087.1" stroke-width="4.5" stroke-linecap="butt"/><line x1="963.9" y1="942.4" x2="979.1" y2="942.4" stroke-width="4.3" stroke-linecap="round"/><line x1="963.9" y1="991.1" x2="979.1" y2="991.1" stroke-width="4.3" stroke-linecap="round"/><line x1="963.9" y1="1039.5" x2="979.1" y2="1039.5" stroke-width="4.3" stroke-linecap="round"/><line x1="963.9" y1="1087.1" x2="979.1" y2="1087.1" stroke-width="4.3" stroke-linecap="round"/><line x1="979.1" y1="1087.1" x2="987.7" y2="1087.1" stroke-width="4.3" stroke-linecap="round"/><line x1="979.1" y1="1119.9" x2="979.1" y2="1264.7" stroke-width="4.5" stroke-linecap="butt"/><line x1="963.9" y1="1119.9" x2="979.1" y2="1119.9" stroke-width="4.3" stroke-linecap="round"/><line x1="963.9" y1="1152.4" x2="979.1" y2="1152.4" stroke-width="4.3" stroke-linecap="round"/><line x1="963.9" y1="1184.7" x2="979.1" y2="1184.7" stroke-width="4.3" stroke-linecap="round"/><line x1="963.9" y1="1217.1" x2="979.1" y2="1217.1" stroke-width="4.3" stroke-linecap="round"/><line x1="963.9" y1="1250" x2="979.1" y2="1250" stroke-width="4.3" stroke-linecap="round"/><line x1="979.1" y1="1119.9" x2="987.7" y2="1119.9" stroke-width="4.3" stroke-linecap="round"/><line x1="979.1" y1="1264.7" x2="987.7" y2="1264.7" stroke-width="4.3" stroke-linecap="round"/><line x1="979.1" y1="1298.1" x2="979.1" y2="1443.3" stroke-width="4.5" stroke-linecap="butt"/><line x1="963.9" y1="1298.1" x2="979.1" y2="1298.1" stroke-width="4.3" stroke-linecap="round"/><line x1="963.9" y1="1371.4" x2="979.1" y2="1371.4" stroke-width="4.3" stroke-linecap="round"/><line x1="963.9" y1="1443.3" x2="979.1" y2="1443.3" stroke-width="4.3" stroke-linecap="round"/><line x1="979.1" y1="1298.1" x2="987.7" y2="1298.1" stroke-width="4.3" stroke-linecap="round"/><line x1="1021.6" y1="1486.2" x2="1642.5" y2="1486.2" stroke-width="4.5" stroke-linecap="round"/><line x1="1176.8" y1="1486.2" x2="1176.8" y2="1500.1" stroke-width="4.3" stroke-linecap="round"/><line x1="1486.7" y1="1486.2" x2="1486.7" y2="1500.1" stroke-width="4.3" stroke-linecap="round"/><line x1="1177" y1="954.1" x2="1177" y2="1087.1" stroke-width="5.5" stroke-linecap="butt"/><line x1="1177" y1="1119.9" x2="1177" y2="1251.7" stroke-width="5.5" stroke-linecap="butt"/><line x1="1177" y1="1421.1" x2="1177" y2="1443.5" stroke-width="5.5" stroke-linecap="butt"/><line x1="1122.7" y1="954.1" x2="1230.7" y2="954.1" stroke-width="5.5" stroke-linecap="round"/><line x1="1125" y1="1443.5" x2="1229" y2="1443.5" stroke-width="5.5" stroke-linecap="round"/><polyline points="1073.3,1266.2 1073.3,1251.7 1279.6,1251.7 1279.6,1266.2" stroke-width="5.8" stroke-linecap="butt" stroke-linejoin="round"/><polyline points="1073.3,1297.4 1073.3,1421.1 1279.6,1421.1 1279.6,1297.4" stroke-width="5.8" stroke-linecap="butt" stroke-linejoin="round"/><line x1="1073.3" y1="1345" x2="1279.6" y2="1345" stroke-width="5" stroke-linecap="butt"/><line x1="1486.5" y1="1120.3" x2="1486.5" y2="1264.7" stroke-width="5.5" stroke-linecap="butt"/><line x1="1486.5" y1="1297.5" x2="1486.5" y2="1304.1" stroke-width="5.5" stroke-linecap="butt"/><line x1="1486.5" y1="1436.1" x2="1486.5" y2="1442.2" stroke-width="5.5" stroke-linecap="butt"/><line x1="1432" y1="1084.9" x2="1541.4" y2="1084.9" stroke-width="5.5" stroke-linecap="round"/><line x1="1443.7" y1="1442.2" x2="1531.2" y2="1442.2" stroke-width="5.5" stroke-linecap="round"/><polygon points="1383.1,1304.1 1589.6,1304.1 1589.6,1436.1 1383.1,1436.1" stroke-width="5.8" stroke-linecap="butt" stroke-linejoin="round"/><line x1="1383.1" y1="1390.9" x2="1589.6" y2="1390.9" stroke-width="5" stroke-linecap="butt"/></g><g fill="#00bf00"><circle cx="1177.4" cy="952.3" r="8.9"/><circle cx="1177.4" cy="1042.8" r="8.9"/><circle cx="1150.9" cy="1069.3" r="8.9"/><circle cx="1177.4" cy="1082.9" r="8.9"/><circle cx="1204" cy="1072" r="8.9"/><circle cx="1230.4" cy="1059.6" r="8.9"/><circle cx="1150.9" cy="1137.4" r="8.9"/><circle cx="1177.4" cy="1149.1" r="8.9"/><circle cx="1177.4" cy="1178.3" r="8.9"/><circle cx="1097.9" cy="1183.7" r="8.9"/><circle cx="1124.2" cy="1192" r="8.9"/><circle cx="1150.9" cy="1201.2" r="8.9"/><circle cx="1150.9" cy="1221.2" r="8.9"/><circle cx="1177.4" cy="1207.5" r="8.9"/><circle cx="1204" cy="1198.7" r="8.9"/><circle cx="1204" cy="1223.1" r="8.9"/><circle cx="1230.4" cy="1186.3" r="8.9"/><circle cx="1230.4" cy="1215" r="8.9"/><circle cx="1177.4" cy="1235.8" r="8.9"/><circle cx="1117.6" cy="1243.5" r="8.9"/><circle cx="1144.3" cy="1246.4" r="8.9"/><circle cx="1210.7" cy="1243.5" r="8.9"/><circle cx="1237.3" cy="1242.8" r="8.9"/><circle cx="1084.5" cy="1252.3" r="8.9"/><circle cx="1111.1" cy="1253.7" r="8.9"/><circle cx="1137.3" cy="1256.6" r="8.9"/><circle cx="1170.9" cy="1250.1" r="8.9"/><circle cx="1184" cy="1247.9" r="8.9"/><circle cx="1217.3" cy="1253.7" r="8.9"/><circle cx="1243.8" cy="1253.7" r="8.9"/><circle cx="1270.8" cy="1251.5" r="8.9"/><circle cx="1097.9" cy="1262.5" r="8.9"/><circle cx="1124.2" cy="1263.2" r="8.9"/><circle cx="1150.9" cy="1263.2" r="8.9"/><circle cx="1164.3" cy="1260.3" r="8.9"/><circle cx="1177.4" cy="1263.2" r="8.9"/><circle cx="1190.6" cy="1260.3" r="8.9"/><circle cx="1204" cy="1263.2" r="8.9"/><circle cx="1230.4" cy="1263.2" r="8.9"/><circle cx="1257" cy="1261.7" r="8.9"/><circle cx="1124.2" cy="1301.9" r="8.9"/><circle cx="1150.9" cy="1304.8" r="8.9"/><circle cx="1177.4" cy="1317.2" r="8.9"/><circle cx="1204" cy="1311.4" r="8.9"/><circle cx="1230.4" cy="1303.6" r="8.9"/><circle cx="1257" cy="1299.4" r="8.9"/><circle cx="1164.3" cy="1332.5" r="8.9"/><circle cx="1190.6" cy="1330.3" r="8.9"/><circle cx="1257" cy="1333.7" r="8.9"/><circle cx="1097.9" cy="1341.3" r="8.9"/><circle cx="1124.2" cy="1343.5" r="8.9"/><circle cx="1150.9" cy="1345.4" r="8.9"/><circle cx="1177.4" cy="1347.8" r="8.9"/><circle cx="1190.6" cy="1352.7" r="8.9"/><circle cx="1204" cy="1344.2" r="8.9"/><circle cx="1230.4" cy="1342.4" r="8.9"/><circle cx="1097.9" cy="1360.2" r="8.9"/><circle cx="1124.2" cy="1366.1" r="8.9"/><circle cx="1150.9" cy="1369.4" r="8.9"/><circle cx="1177.4" cy="1378.8" r="8.9"/><circle cx="1204" cy="1378.8" r="8.9"/><circle cx="1230.4" cy="1367.2" r="8.9"/><circle cx="1257" cy="1366.1" r="8.9"/><circle cx="1111.1" cy="1387.5" r="8.9"/><circle cx="1217.3" cy="1390.9" r="8.9"/><circle cx="1243.8" cy="1386.1" r="8.9"/><circle cx="1097.9" cy="1401.4" r="8.9"/><circle cx="1124.2" cy="1403.3" r="8.9"/><circle cx="1137.3" cy="1397" r="8.9"/><circle cx="1164.3" cy="1399.2" r="8.9"/><circle cx="1190.6" cy="1397.4" r="8.9"/><circle cx="1230.4" cy="1402.4" r="8.9"/><circle cx="1257" cy="1399.9" r="8.9"/><circle cx="1150.9" cy="1409.4" r="8.9"/><circle cx="1177.4" cy="1410.9" r="8.9"/><circle cx="1204" cy="1407.9" r="8.9"/><circle cx="1233.6" cy="1414.5" r="8.9"/><circle cx="1148.3" cy="1419.6" r="8.9"/><circle cx="1206.6" cy="1419.6" r="8.9"/><circle cx="1091.4" cy="1421.8" r="8.9"/><circle cx="1117.6" cy="1425.4" r="8.9"/><circle cx="1263.5" cy="1424.7" r="8.9"/><circle cx="1177.4" cy="1422.5" r="8.9"/><circle cx="1172.3" cy="1428.4" r="8.9"/><circle cx="1184" cy="1428.4" r="8.9"/><circle cx="1236.5" cy="1425.4" r="8.9"/><circle cx="1084.1" cy="1433.5" r="8.9"/><circle cx="1111.1" cy="1434.2" r="8.9"/><circle cx="1137.3" cy="1433.5" r="8.9"/><circle cx="1164.3" cy="1436.4" r="8.9"/><circle cx="1190.6" cy="1436.4" r="8.9"/><circle cx="1217.3" cy="1435.7" r="8.9"/><circle cx="1243.8" cy="1434.2" r="8.9"/><circle cx="1270.8" cy="1433.5" r="8.9"/><circle cx="1097.9" cy="1438.6" r="8.9"/><circle cx="1124.2" cy="1440" r="8.9"/><circle cx="1150.9" cy="1440.8" r="8.9"/><circle cx="1177.4" cy="1441.5" r="8.9"/><circle cx="1204" cy="1441.5" r="8.9"/><circle cx="1230.4" cy="1440" r="8.9"/><circle cx="1257" cy="1438.6" r="8.9"/><circle cx="1144.6" cy="1431.3" r="8.9"/><circle cx="1205.9" cy="1431.3" r="8.9"/></g><g fill="#ff7f00"><rect x="1478.2" y="1074.2" width="18.4" height="18.4"/><rect x="1451.7" y="1184.4" width="18.4" height="18.4"/><rect x="1478.2" y="1190.2" width="18.4" height="18.4"/><rect x="1425.4" y="1237.8" width="18.4" height="18.4"/><rect x="1451.7" y="1251.6" width="18.4" height="18.4"/><rect x="1478.2" y="1253.7" width="18.4" height="18.4"/><rect x="1504.8" y="1251.6" width="18.4" height="18.4"/><rect x="1531.2" y="1239.8" width="18.4" height="18.4"/><rect x="1451.7" y="1294.1" width="18.4" height="18.4"/><rect x="1478.2" y="1308.7" width="18.4" height="18.4"/><rect x="1425.4" y="1340.8" width="18.4" height="18.4"/><rect x="1557.8" y="1339.1" width="18.4" height="18.4"/><rect x="1531.2" y="1351.8" width="18.4" height="18.4"/><rect x="1451.7" y="1359.8" width="18.4" height="18.4"/><rect x="1478.2" y="1365.3" width="18.4" height="18.4"/><rect x="1504.8" y="1361.3" width="18.4" height="18.4"/><rect x="1504.8" y="1378.8" width="18.4" height="18.4"/><rect x="1451.7" y="1381" width="18.4" height="18.4"/><rect x="1478.2" y="1404.7" width="18.4" height="18.4"/><rect x="1484.8" y="1407.7" width="18.4" height="18.4"/><rect x="1385.3" y="1412.8" width="18.4" height="18.4"/><rect x="1411.9" y="1414.9" width="18.4" height="18.4"/><rect x="1438.6" y="1418.9" width="18.4" height="18.4"/><rect x="1518.1" y="1420.3" width="18.4" height="18.4"/><rect x="1544.6" y="1416.4" width="18.4" height="18.4"/><rect x="1571.3" y="1414.5" width="18.4" height="18.4"/><rect x="1465.1" y="1426.2" width="18.4" height="18.4"/><rect x="1491.4" y="1426.9" width="18.4" height="18.4"/><rect x="1398.7" y="1426.9" width="18.4" height="18.4"/><rect x="1425.4" y="1429.8" width="18.4" height="18.4"/><rect x="1451.7" y="1432.8" width="18.4" height="18.4"/><rect x="1478.2" y="1432.8" width="18.4" height="18.4"/><rect x="1504.8" y="1432.8" width="18.4" height="18.4"/><rect x="1531.2" y="1431.3" width="18.4" height="18.4"/><rect x="1557.8" y="1429.8" width="18.4" height="18.4"/></g><g fill="#000"><text transform="translate(890.95 953.77) scale(1.0187 1)" font-size="33.88" font-weight="bold">4000</text><text transform="translate(890.95 1002.47) scale(1.0187 1)" font-size="33.88" font-weight="bold">3000</text><text transform="translate(890.95 1050.87) scale(1.0187 1)" font-size="33.88" font-weight="bold">2000</text><text transform="translate(890.95 1098.64) scale(1.0187 1)" font-size="33.88" font-weight="bold">1000</text><text transform="translate(890.95 1131.44) scale(1.0187 1)" font-size="33.88" font-weight="bold">1000</text><text transform="translate(908.21 1163.77) scale(1.0187 1)" font-size="33.88" font-weight="bold">800</text><text transform="translate(908.21 1196.07) scale(1.0187 1)" font-size="33.88" font-weight="bold">600</text><text transform="translate(908.21 1228.47) scale(1.0187 1)" font-size="33.88" font-weight="bold">400</text><text transform="translate(908.21 1261.37) scale(1.0187 1)" font-size="33.88" font-weight="bold">200</text><text transform="translate(908.21 1309.64) scale(1.0187 1)" font-size="33.88" font-weight="bold">100</text><text transform="translate(925.47 1382.77) scale(1.0187 1)" font-size="33.88" font-weight="bold">50</text><text transform="translate(942.72 1454.67) scale(1.0187 1)" font-size="33.88" font-weight="bold">0</text><text transform="translate(914.09 851.65) scale(1.0584 1)" font-size="45.14">d</text><text transform="translate(1156.02 1531.8) scale(0.9931 1)" font-size="34.46" font-weight="bold">No</text><text transform="translate(1462.91 1531.8)" font-size="34.46" font-weight="bold">Yes</text><text transform="translate(1283.75 1583.9) scale(0.9613 1)" font-size="36.82" font-weight="bold">ACLF</text><text transform="translate(824 1356.58) rotate(-90) scale(0.9923 1)" font-size="39.08" font-weight="bold">Relative Expression</text><text transform="translate(874.4 1291.16) rotate(-90) scale(1.0287 1)" font-size="37.54" font-weight="bold">miR-223-3p</text><text transform="translate(1414.8 956.1) scale(0.9754 1)" font-size="38.77"><tspan font-style="italic">P</tspan> = 0.026</text><text transform="translate(1479.34 998.68) scale(0.8255 1)" font-size="40.28">*</text></g>
</svg>
</body></html>
